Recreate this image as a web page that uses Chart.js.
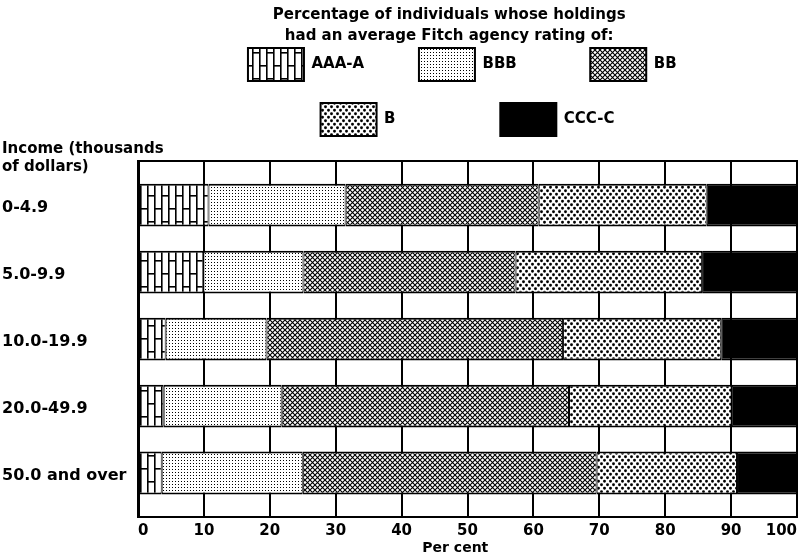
<!DOCTYPE html>
<html>
<head>
<meta charset="utf-8">
<script src="https://cdn.jsdelivr.net/npm/chart.js@4.4.1/dist/chart.umd.min.js"></script>
<style>
html, body { margin: 0; padding: 0; background: #fff; }
canvas { display: block; }
</style>
</head>
<body>
<canvas id="c" width="807" height="558"></canvas>
<script>
// ---- data ----
const incomeGroups = ['0-4.9', '5.0-9.9', '10.0-19.9', '20.0-49.9', '50.0 and over'];
const ratingNames = ['AAA-A', 'BBB', 'BB', 'B', 'CCC-C'];
const aaaA = [10.7, 9.9, 4.2, 3.9, 3.6];
const bbb  = [20.8, 15.2, 15.3, 17.9, 21.4];
const bb   = [29.3, 32.2, 45.0, 43.6, 44.6];
const b    = [25.5, 28.3, 24.0, 24.7, 21.3];
const cccC = [13.7, 14.4, 11.5, 9.9, 9.1];
const titleLines = ['Percentage of individuals whose holdings', 'had an average Fitch agency rating of:'];
const yCaption = ['Income (thousands', 'of dollars)'];
const xTitle = 'Per cent';

// ---- styling ----
const FONT = '"DejaVu Sans", sans-serif';
Chart.defaults.font.family = FONT;
Chart.defaults.color = '#000';

function makePattern(w, h, paint) {
  const c = document.createElement('canvas');
  c.width = w; c.height = h;
  const g = c.getContext('2d');
  g.fillStyle = '#fff'; g.fillRect(0, 0, w, h);
  g.fillStyle = '#000'; g.strokeStyle = '#000';
  paint(g, w, h);
  return g.createPattern(c, 'repeat');
}
const brick = makePattern(14, 26, g => {
  g.fillRect(0, 0, 1.6, 26); g.fillRect(7, 0, 1.6, 26);
  g.fillRect(0, 0, 7, 1.6); g.fillRect(7, 13, 7, 1.6);
});
const fineDots = makePattern(3, 3, g => { g.fillRect(1, 1, 1, 1); });
const crossHatch = makePattern(5, 5, g => {
  g.lineWidth = 1.1;
  g.beginPath();
  g.moveTo(-1, -1); g.lineTo(6, 6);
  g.moveTo(-1, 6); g.lineTo(6, -1);
  g.stroke();
});
const coarseDots = makePattern(6, 7, g => {
  g.beginPath();
  g.moveTo(2.95, 1.75); g.arc(1.5, 1.75, 1.45, 0, Math.PI * 2);
  g.moveTo(5.95, 5.25); g.arc(4.5, 5.25, 1.45, 0, Math.PI * 2);
  g.fill();
});
const fills = [brick, fineDots, crossHatch, coarseDots, '#000'];
const seriesValues = [aaaA, bbb, bb, b, cccC];

const legendFont = { size: 15, weight: 'bold', family: FONT };
const legendTextWidths = [86.5, 86.5, 33.5, 94.5, 0];

function padText(ctx, text, target) {
  let s = text, n = 0;
  while (n++ < 60 && ctx.measureText(s + ' ').width <= target) s += ' ';
  n = 0;
  while (n++ < 60 && ctx.measureText(s + '\u200A').width <= target && ctx.measureText(s + '\u200A').width > ctx.measureText(s).width) s += '\u200A';
  return s;
}
// trailing spaces nudge centred text to the left, as in the original layout
const shiftLeft = (t, n) => t + ' '.repeat(n);

const datasets = ratingNames.map((name, k) => ({
  label: name,
  data: seriesValues[k].map((v, i) => ({ x: v, y: i })),
  backgroundColor: fills[k],
  borderColor: '#000',
  borderWidth: { top: 2, bottom: 2, left: 1, right: 1 },
  borderSkipped: false,
  barPercentage: 0.64,
  categoryPercentage: 1
}));

new Chart(document.getElementById('c'), {
  type: 'bar',
  data: { datasets },
  options: {
    indexAxis: 'y',
    responsive: false,
    animation: false,
    devicePixelRatio: 1,
    layout: { padding: { left: 2, right: 10, top: 0, bottom: 1 } },
    scales: {
      x: {
        type: 'linear', position: 'bottom', stacked: true, min: 0, max: 100,
        ticks: { stepSize: 10, align: 'inner', padding: 5, font: { size: 15, weight: 'bold' }, color: '#000' },
        grid: { color: '#000', lineWidth: 2, drawTicks: false },
        border: { display: true, color: '#000', width: 2 },
        title: { display: true, text: shiftLeft(xTitle, 5), font: { size: 14, weight: 'bold' }, padding: { top: -5, bottom: 0 }, color: '#000' }
      },
      xTop: {
        axis: 'x', type: 'linear', position: 'top', min: 0, max: 100,
        grid: { display: false, drawTicks: false },
        ticks: { display: false },
        border: { display: true, color: '#000', width: 2 }
      },
      y: {
        type: 'linear', reverse: true, stacked: true, min: -0.66, max: 4.66,
        offset: false,
        grid: { display: false, offset: false },
        border: { display: true, color: '#000', width: 3 },
        ticks: {
          stepSize: 1, includeBounds: false, autoSkip: false, crossAlign: 'far', labelOffset: 3,
          font: { size: 16, weight: 'bold' }, color: '#000',
          callback: v => (Number.isInteger(v) && incomeGroups[v] !== undefined) ? incomeGroups[v] : ''
        },
        afterFit: s => { s.width = 136; }
      }
    },
    plugins: {
      tooltip: { enabled: false },
      title: {
        display: true, text: titleLines.map(t => shiftLeft(t, 7)), position: 'top', align: 'center', fullSize: false, weight: 2000,
        font: { size: 15, weight: 'bold', lineHeight: 1.4 }, color: '#000',
        padding: { top: 4.5, bottom: -20.5 }
      },
      legend: {
        display: true, position: 'top', align: 'center', fullSize: false, weight: 1000,
        labels: {
          boxWidth: 56, boxHeight: 33, padding: 22, font: legendFont, color: '#000',
          generateLabels(chart) {
            const items = Chart.defaults.plugins.legend.labels.generateLabels(chart);
            const ctx = chart.ctx;
            ctx.save();
            ctx.font = Chart.helpers.toFont(legendFont).string;
            items.forEach((it, i) => {
              it.text = padText(ctx, it.text, legendTextWidths[i]);
              it.lineWidth = 2;
              it.strokeStyle = '#000';
            });
            ctx.restore();
            return items;
          }
        }
      },
      subtitle: {
        display: true, text: yCaption, position: 'top', align: 'start', fullSize: true, weight: 500,
        font: { size: 15, weight: 'bold', lineHeight: 1.2 }, color: '#000',
        padding: { top: -6, bottom: -15 }
      }
    }
  }
});
</script>
</body>
</html>
